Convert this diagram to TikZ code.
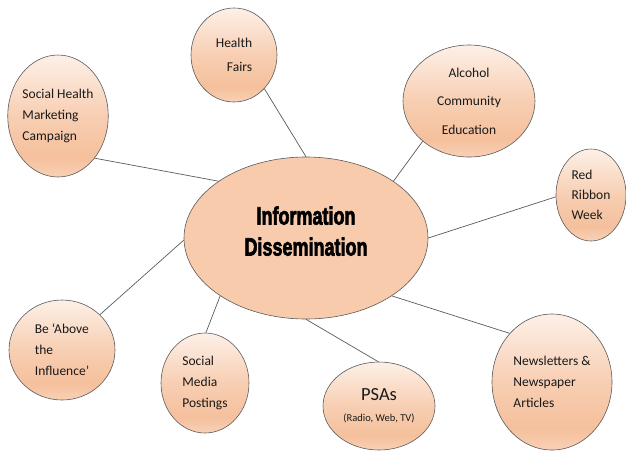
\documentclass[tikz,border=0pt]{standalone}
\usepackage{fontspec}
\setmainfont{Carlito}
\newfontfamily\heavyfont[FakeBold=3]{Liberation Sans Bold}
\usetikzlibrary{shapes.geometric}
\definecolor{peach}{HTML}{F8CBAD}
\definecolor{peachL}{HTML}{FDF0E7}
\definecolor{peachD}{HTML}{F5C09C}
\definecolor{peachB}{HTML}{F8D1B6}
\definecolor{edgegray}{HTML}{5A5A5A}
\pgfdeclareverticalshading{bubshade}{100bp}{color(0bp)=(peachB); color(25bp)=(peachB); color(33bp)=(peachD); color(50bp)=(peachD!70!peachL); color(75bp)=(peachL); color(100bp)=(peachL)}
\tikzset{
  bubble/.style={ellipse, draw=edgegray, line width=0.6pt, shading=bubshade, inner sep=0pt,
    font=\fontsize{13.5}{21}\selectfont, text=black!90},
  hub/.style={ellipse, draw=edgegray, line width=0.6pt, fill=peach, inner sep=0pt, align=center,
    font=\fontsize{25}{31}\selectfont\heavyfont},
  spoke/.style={draw=edgegray, line width=0.7pt}
}
\newcommand{\cond}[1]{\scalebox{0.72}[1]{#1}}
\begin{document}
\begin{tikzpicture}[x=1pt,y=-1pt]
\useasboundingbox (0,0) rectangle (626,451);
\node[hub, minimum width=244pt, minimum height=162pt] (c) at (306,238) {\cond{Information}\\\cond{Dissemination}\\[-17pt]};
\node[bubble, minimum width=86pt, minimum height=94pt, align=right, font=\fontsize{13.5}{24}\selectfont] (hf) at (234,55) {Health\\Fairs};
\node[bubble, minimum width=100pt, minimum height=122pt, align=left] (shm) at (58,116) {Social Health\\Marketing\\Campaign};
\node[bubble, minimum width=132pt, minimum height=112pt, align=center, font=\fontsize{13.5}{28.5}\selectfont] (ace) at (469,101) {Alcohol\\Community\\Education};
\node[bubble, minimum width=70pt, minimum height=92pt, align=left, font=\fontsize{13.5}{20}\selectfont] (rrw) at (591,195) {Red\\Ribbon\\Week};
\node[bubble, minimum width=106pt, minimum height=100pt, align=left] (bai) at (62,350) {Be ‘Above\\the\\Influence’};
\node[bubble, minimum width=88pt, minimum height=100pt, align=left] (smp) at (205,383) {Social\\Media\\Postings};
\node[bubble, minimum width=112pt, minimum height=88pt, align=center, font=\fontsize{10.5}{21}\selectfont] (psa) at (379,406) {{\fontsize{18.5}{21}\selectfont PSAs}\\(Radio, Web, TV)};
\node[bubble, minimum width=120pt, minimum height=136pt, align=left] (nna) at (552,382) {Newsletters \&\\Newspaper\\Articles};
\draw[spoke] (hf.-48) -- (c.90);
\draw[spoke] (shm.-49) -- (c.147.5);
\draw[spoke] (ace.-139) -- (c.33.7);
\draw[spoke] (rrw.-177) -- (c.0);
\draw[spoke] (bai.43.5) -- (c.181);
\draw[spoke] (smp.89) -- (c.214.6);
\draw[spoke] (psa.91) -- (c.270);
\draw[spoke] (nna.131.3) -- (c.-34.1);
\end{tikzpicture}
\end{document}
